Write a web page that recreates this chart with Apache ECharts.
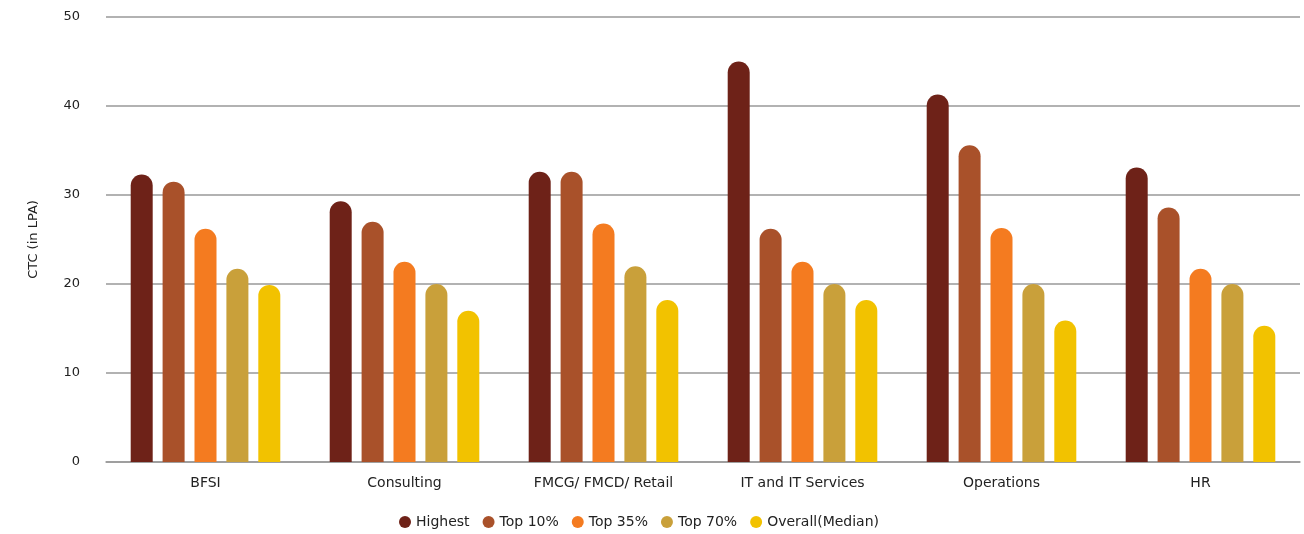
<!DOCTYPE html>
<html><head><meta charset="utf-8">
<script src="https://cdn.jsdelivr.net/npm/echarts@6/dist/echarts.min.js"></script>
<style>html,body{margin:0;padding:0;background:#fff}#c{width:1304px;height:534px}</style>
</head><body><div id="c"></div>
<script>
const categories = ['BFSI', 'Consulting', 'FMCG/ FMCD/ Retail', 'IT and IT Services', 'Operations', 'HR'];
const seriesNames = ['Highest', 'Top 10%', 'Top 35%', 'Top 70%', 'Overall(Median)'];
const highest = [32.3, 29.3, 32.6, 45.0, 41.3, 33.1];
const top10 = [31.5, 27.0, 32.6, 26.2, 35.6, 28.6];
const top35 = [26.2, 22.5, 26.8, 22.5, 26.3, 21.7];
const top70 = [21.7, 20.0, 22.0, 20.0, 20.0, 20.0];
const median = [19.9, 17.0, 18.2, 18.2, 15.9, 15.3];
const yTicks = [0, 10, 20, 30, 40, 50];
const colors = ['#6E2218', '#A9512A', '#F47B20', '#C9A03A', '#F2C200'];
const values = [highest, top10, top35, top70, median];
const font = 'DejaVu Sans, sans-serif';
const chart = echarts.init(document.getElementById('c'));
chart.setOption({
  animation: false,
  backgroundColor: '#fff',
  color: colors,
  grid: {left: 106, right: 4, top: 17, bottom: 72},
  legend: {
    bottom: 0, left: 394, icon: 'circle', itemWidth: 12, itemHeight: 12, itemGap: 13,
    textStyle: {fontFamily: font, fontSize: 14, color: '#222'},
    data: seriesNames
  },
  xAxis: {
    type: 'category', data: categories,
    axisLine: {lineStyle: {color: '#999', width: 1.5}},
    axisTick: {show: false},
    axisLabel: {fontFamily: font, fontSize: 14, color: '#222', margin: 14}
  },
  yAxis: {
    type: 'value', min: yTicks[0], max: yTicks[yTicks.length - 1], interval: 10,
    name: 'CTC (in LPA)', nameLocation: 'middle', nameGap: 66, nameRotate: 90,
    nameTextStyle: {fontFamily: font, fontSize: 13, color: '#222'},
    axisLine: {show: false}, axisTick: {show: false},
    axisLabel: {fontFamily: font, fontSize: 13, color: '#222', margin: 26},
    splitLine: {lineStyle: {color: '#999', width: 1.5}}
  },
  series: seriesNames.map((n, i) => ({
    name: n, type: 'bar', data: values[i], barWidth: 22, barGap: '45%',
    itemStyle: {color: colors[i], borderRadius: [11, 11, 0, 0]}
  }))
});
</script></body></html>
